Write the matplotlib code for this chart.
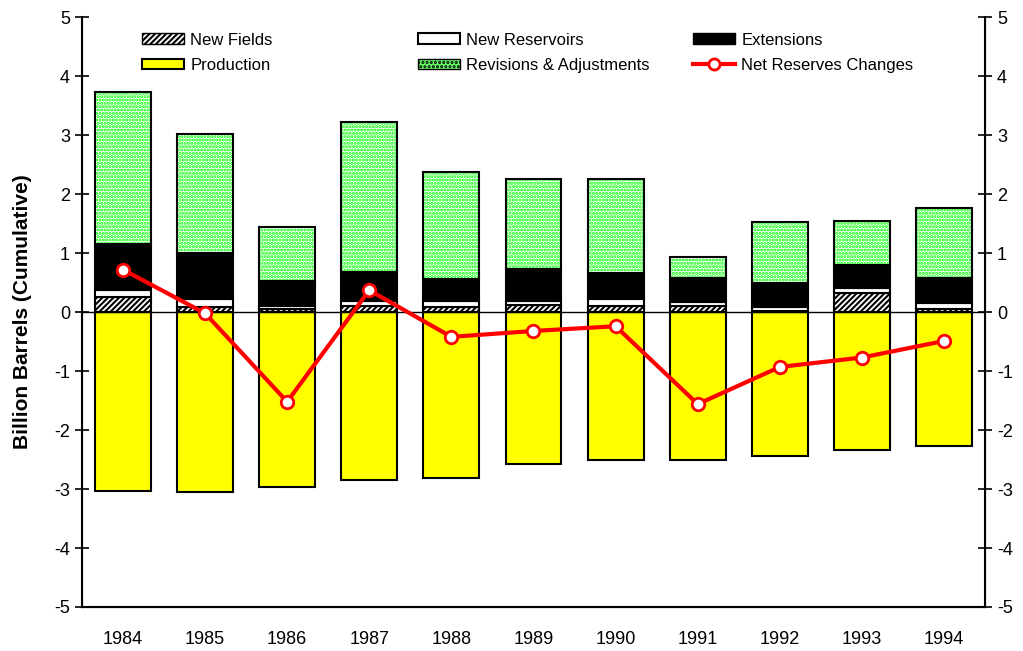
import numpy as np
import matplotlib
matplotlib.use("Agg")
import matplotlib.pyplot as plt
from matplotlib.patches import Patch
from matplotlib.lines import Line2D

plt.rcParams["font.family"] = ["Liberation Sans", "DejaVu Sans"]
plt.rcParams["hatch.linewidth"] = 1.5
plt.rcParams["axes.unicode_minus"] = False

years = ["1984", "1985", "1986", "1987", "1988", "1989",
         "1990", "1991", "1992", "1993", "1994"]
new_fields = [0.25, 0.09, 0.045, 0.10, 0.09, 0.12, 0.11, 0.11, 0.02, 0.33, 0.05]
new_reservoirs = [0.13, 0.14, 0.055, 0.09, 0.10, 0.07, 0.105, 0.065, 0.06, 0.08, 0.11]
extensions = [0.78, 0.78, 0.43, 0.49, 0.37, 0.54, 0.455, 0.395, 0.42, 0.39, 0.42]
revisions = [2.57, 2.01, 0.92, 2.55, 1.82, 1.52, 1.58, 0.37, 1.02, 0.75, 1.19]
production = [-3.03, -3.05, -2.97, -2.85, -2.81, -2.58, -2.51, -2.51, -2.44, -2.34, -2.27]
net_changes = [0.72, -0.02, -1.52, 0.37, -0.42, -0.32, -0.24, -1.56, -0.93, -0.77, -0.49]

x = np.arange(len(years))
w = 0.68
GREEN = "#00ff00"

fig = plt.figure(figsize=(10.23, 6.51), dpi=100)
ax = fig.add_axes([0.080, 0.0676, 0.883, 0.906])

nf = np.array(new_fields)
nr = np.array(new_reservoirs)
ex = np.array(extensions)
rv = np.array(revisions)

ax.bar(x, production, w, color="#ffff00", edgecolor="black", linewidth=1.5, zorder=2)
ax.bar(x, nf, w, color="white", edgecolor="black", hatch="//////", linewidth=1.5, zorder=2)
ax.bar(x, nr, w, bottom=nf, color="white", edgecolor="black", linewidth=1.5, zorder=2)
ax.bar(x, ex, w, bottom=nf + nr, color="black", edgecolor="black", linewidth=1.5, zorder=2)
# green dotted fill, then black outline on top
ax.bar(x, rv, w, bottom=nf + nr + ex, color="white", edgecolor=GREEN,
       hatch=".....", linewidth=0, zorder=2)
ax.bar(x, rv, w, bottom=nf + nr + ex, color="none", edgecolor="black",
       linewidth=1.5, zorder=3)

ax.axhline(0, color="black", linewidth=1.0, zorder=2.5)
ax.plot(x, net_changes, color="#ff0000", linewidth=3, marker="o", markersize=9,
        markerfacecolor="white", markeredgecolor="#ff0000", markeredgewidth=2, zorder=4)

ax.set_xlim(-0.5, len(years) - 0.5)
ax.set_ylim(-5, 5)
ax.set_yticks(range(-5, 6))
ax.set_xticks(x)
ax.set_xticklabels(years)
ax.tick_params(axis="x", length=0, labelsize=13, pad=17)
ax.tick_params(axis="y", direction="inout", length=10, width=1.2, labelsize=13)
ax.spines["top"].set_visible(False)
for s in ["left", "right", "bottom"]:
    ax.spines[s].set_linewidth(1.5)
ax.set_ylabel("Billion Barrels (Cumulative)", fontsize=15, fontweight="bold", labelpad=16)

ax2 = ax.twinx()
ax2.set_ylim(-5, 5)
ax2.set_yticks(range(-5, 6))
ax2.tick_params(axis="y", direction="inout", length=10, width=1.2, labelsize=13)
ax2.spines["top"].set_visible(False)

columns = [
    [Patch(facecolor="white", edgecolor="black", hatch="//////", label="New Fields"),
     Patch(facecolor="#ffff00", edgecolor="black", linewidth=1.5, label="Production")],
    [Patch(facecolor="white", edgecolor="black", linewidth=1.5, label="New Reservoirs"),
     Patch(facecolor="#66ff66", edgecolor="black", hatch="....", label="Revisions & Adjustments")],
    [Patch(facecolor="black", edgecolor="black", label="Extensions"),
     Line2D([0], [0], color="#ff0000", linewidth=3, marker="o", markersize=8,
            markerfacecolor="white", markeredgecolor="#ff0000", markeredgewidth=2,
            label="Net Reserves Changes")],
]
col_x = [0.1388, 0.4086, 0.6774]
for hs, cx in zip(columns, col_x):
    fig.legend(handles=hs, loc="upper left", bbox_to_anchor=(cx, 0.950),
               frameon=False, fontsize=12, handlelength=2.5, handleheight=0.6,
               handletextpad=0.4, labelspacing=0.62, borderpad=0, borderaxespad=0)

fig.savefig("out.png", dpi=100)
